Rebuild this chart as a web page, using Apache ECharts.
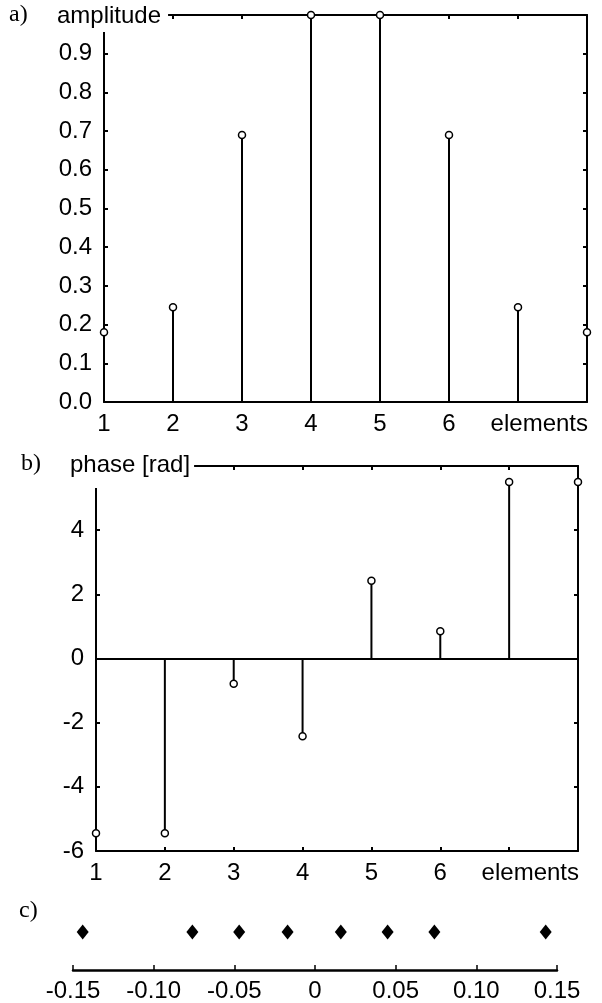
<!DOCTYPE html>
<html>
<head>
<meta charset="utf-8">
<script src="https://cdn.jsdelivr.net/npm/echarts@6/dist/echarts.min.js"></script>
<style>
  html, body { margin: 0; padding: 0; background: #fff; }
  #chart { width: 602px; height: 1003px; }
</style>
</head>
<body>
<div id="chart"></div>
<script>
// Array elements 1..8
const elements = [1, 2, 3, 4, 5, 6, 7, 8];
// a) amplitude weight of each element
const amplitude = [0.18, 0.245, 0.69, 1.0, 1.0, 0.69, 0.245, 0.18];
// b) phase of each element in radians
const phase = [-5.45, -5.45, -0.79, -2.42, 2.42, 0.85, 5.5, 5.5];
// c) element positions along the aperture
const positions = [-0.144, -0.076, -0.047, -0.017, 0.016, 0.045, 0.074, 0.143];

const SANS = 'Liberation Sans';
const SERIF = 'Liberation Serif';
const FS = 24;

const pairs = (ys) => elements.map((e, i) => [e, ys[i]]);

function frameAxis(extra) {
  return Object.assign({
    axisLine: { show: true, onZero: false, lineStyle: { color: '#000', width: 2 } },
    axisTick: { show: true, inside: true, length: 4, lineStyle: { color: '#000', width: 2 } },
    splitLine: { show: false },
    axisLabel: { show: false }
  }, extra);
}
const labelStyle = (extra) => Object.assign({
  show: true, color: '#000', fontFamily: SANS, fontSize: FS
}, extra);

const elemLabel = (v) => (v <= 6 ? String(v) : '');

const chart = echarts.init(document.getElementById('chart'), null, { renderer: 'canvas' });

chart.setOption({
  animation: false,
  backgroundColor: '#fff',
  title: [
    { text: 'a)', left: 9, top: 3, padding: 0,
      textStyle: { fontFamily: SERIF, fontSize: FS, fontWeight: 'normal', color: '#000' } },
    { text: 'amplitude', left: 55, top: 2, padding: [2, 7, 4, 2], backgroundColor: '#fff',
      textStyle: { fontFamily: SANS, fontSize: FS, fontWeight: 'normal', color: '#000' } },
    { text: 'b)', left: 21, top: 452, padding: 0,
      textStyle: { fontFamily: SERIF, fontSize: FS, fontWeight: 'normal', color: '#000' } },
    { text: 'phase [rad]', left: 68, top: 451, padding: [2, 4, 11, 2], backgroundColor: '#fff',
      textStyle: { fontFamily: SANS, fontSize: FS, fontWeight: 'normal', color: '#000' } },
    { text: 'c)', left: 19, top: 899, padding: 0,
      textStyle: { fontFamily: SERIF, fontSize: FS, fontWeight: 'normal', color: '#000' } }
  ],
  grid: [
    { left: 104, right: 15, top: 15, height: 387 },
    { left: 96, right: 24, top: 466, height: 385 },
    { left: 73, right: 45, top: 894, height: 76 }
  ],
  xAxis: [
    frameAxis({ type: 'value', gridIndex: 0, position: 'bottom', min: 1, max: 8, interval: 1,
      axisLabel: labelStyle({ margin: 10, formatter: elemLabel }),
      name: 'elements', nameLocation: 'end', nameGap: 1,
      nameTextStyle: { color: '#000', fontFamily: SANS, fontSize: FS, align: 'right',
        verticalAlign: 'top', padding: [10, 0, 0, 0] } }),
    frameAxis({ type: 'value', gridIndex: 0, position: 'top', min: 1, max: 8, interval: 1 }),
    frameAxis({ type: 'value', gridIndex: 1, position: 'bottom', min: 1, max: 8, interval: 1,
      axisLabel: labelStyle({ margin: 10, formatter: elemLabel }),
      name: 'elements', nameLocation: 'end', nameGap: 1,
      nameTextStyle: { color: '#000', fontFamily: SANS, fontSize: FS, align: 'right',
        verticalAlign: 'top', padding: [10, 0, 0, 0] } }),
    frameAxis({ type: 'value', gridIndex: 1, position: 'top', min: 1, max: 8, interval: 1 }),
    frameAxis({ type: 'value', gridIndex: 2, position: 'bottom', min: -0.15, max: 0.15, interval: 0.05,
      axisLine: { show: true, onZero: false, lineStyle: { color: '#000', width: 2.5 } },
      axisTick: { show: true, inside: true, length: 5, lineStyle: { color: '#000', width: 1.5 } },
      axisLabel: labelStyle({ margin: 9,
        formatter: (v) => (Math.abs(v) < 1e-9 ? '0' : v.toFixed(2)) }) })
  ],
  yAxis: [
    frameAxis({ type: 'value', gridIndex: 0, position: 'left', min: 0, max: 1, interval: 0.1,
      axisLabel: labelStyle({ margin: 12,
        formatter: (v) => (v > 0.999 ? '' : v.toFixed(1)) }) }),
    frameAxis({ type: 'value', gridIndex: 0, position: 'right', min: 0, max: 1, interval: 0.1 }),
    frameAxis({ type: 'value', gridIndex: 1, position: 'left', min: -6, max: 6, interval: 2,
      axisLabel: labelStyle({ margin: 12,
        formatter: (v) => (v >= 6 ? '' : String(v)) }) }),
    frameAxis({ type: 'value', gridIndex: 1, position: 'right', min: -6, max: 6, interval: 2 }),
    { type: 'value', gridIndex: 2, min: 0, max: 1, show: false }
  ],
  series: [
    // a) stems and open circles
    { type: 'bar', xAxisIndex: 0, yAxisIndex: 0, data: pairs(amplitude), barWidth: 2,
      clip: false, itemStyle: { color: '#000' }, z: 3 },
    { type: 'scatter', xAxisIndex: 0, yAxisIndex: 0, data: pairs(amplitude),
      symbol: 'circle', symbolSize: 7, clip: false,
      itemStyle: { color: '#fff', borderColor: '#000', borderWidth: 1.5, opacity: 1 }, z: 10 },
    // b) stems from the zero line and open circles
    { type: 'bar', xAxisIndex: 2, yAxisIndex: 2, data: pairs(phase), barWidth: 2,
      clip: false, itemStyle: { color: '#000' }, z: 3,
      markLine: { silent: true, symbol: ['none', 'none'], label: { show: false },
        lineStyle: { color: '#000', width: 2, type: 'solid' }, data: [{ yAxis: 0 }] } },
    { type: 'scatter', xAxisIndex: 2, yAxisIndex: 2, data: pairs(phase),
      symbol: 'circle', symbolSize: 7, clip: false,
      itemStyle: { color: '#fff', borderColor: '#000', borderWidth: 1.5, opacity: 1 }, z: 10 },
    // c) element positions
    { type: 'scatter', xAxisIndex: 4, yAxisIndex: 4,
      data: positions.map((p) => [p, 0.5]),
      symbol: 'diamond', symbolSize: [12, 15], clip: false,
      itemStyle: { color: '#000', opacity: 1 } }
  ]
});
</script>
</body>
</html>
